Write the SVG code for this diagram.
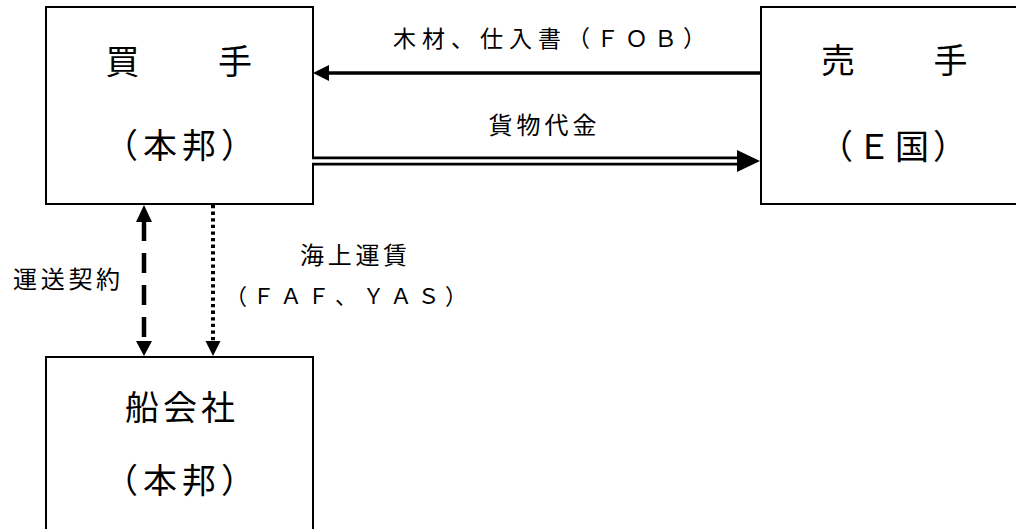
<svg xmlns="http://www.w3.org/2000/svg" width="1016" height="529" viewBox="0 0 1016 529">
<style>
.box{fill:#fff;stroke:#000;stroke-width:2}
.t{font-family:"Noto Sans CJK JP","Noto Sans CJK SC",sans-serif;fill:#000}
.big{font-size:34px}
.lbl{font-size:23px}
.ln{stroke:#000;fill:none}
.ah{fill:#000;stroke:none}
</style>
<rect width="1016" height="529" fill="#fff"/>
<g id="buyer">
<rect class="box" x="46" y="7" width="267" height="197"/>
<text class="t big" x="105.5" y="74" letter-spacing="3.5">買　　手</text>
<text class="t big" x="104" y="158" letter-spacing="5">（本邦）</text>
</g>
<g id="seller">
<rect class="box" x="761" y="7" width="267" height="197"/>
<text class="t big" x="821" y="73" letter-spacing="3.5">売　　手</text>
<text class="t big" x="819" y="159" letter-spacing="4">（Ｅ国）</text>
</g>
<g id="shipco">
<rect class="box" x="46" y="357" width="267" height="200"/>
<text class="t big" x="125" y="420" letter-spacing="4">船会社</text>
<text class="t big" x="104" y="493" letter-spacing="5">（本邦）</text>
</g>
<g id="connectors">
<line class="ln" x1="761" y1="73" x2="328" y2="73" stroke-width="3.5"/>
<polygon class="ah" points="313,73 329,65 329,81"/>
<line class="ln" x1="313" y1="161" x2="740" y2="161" stroke-width="9"/>
<line x1="312" y1="161" x2="740" y2="161" stroke="#fff" stroke-width="3.3"/>
<polygon class="ah" points="760,161 737,150 737,172"/>
<line class="ln" x1="144" y1="221" x2="144" y2="342" stroke-width="4.5" stroke-dasharray="20 12"/>
<polygon class="ah" points="144,205 136,222 152,222"/>
<polygon class="ah" points="144,356 136,341 152,341"/>
<line class="ln" x1="213" y1="205" x2="213" y2="342" stroke-width="4" stroke-dasharray="3.3 3.3"/>
<polygon class="ah" points="213,356 205.5,341 220.5,341"/>
</g>
<g id="labels">
<text class="t lbl" x="393" y="47" letter-spacing="6">木材、仕入書（ＦＯＢ）</text>
<text class="t" style="font-size:24px" x="488.5" y="134" letter-spacing="4">貨物代金</text>
<text class="t" style="font-size:24px" x="13" y="287.5" letter-spacing="3.7">運送契約</text>
<text class="t" style="font-size:24px" x="300" y="264" letter-spacing="3.7">海上運賃</text>
<text class="t" style="font-size:22px" x="225" y="304" letter-spacing="5.5">（ＦＡＦ、ＹＡＳ）</text>
</g>
</svg>
